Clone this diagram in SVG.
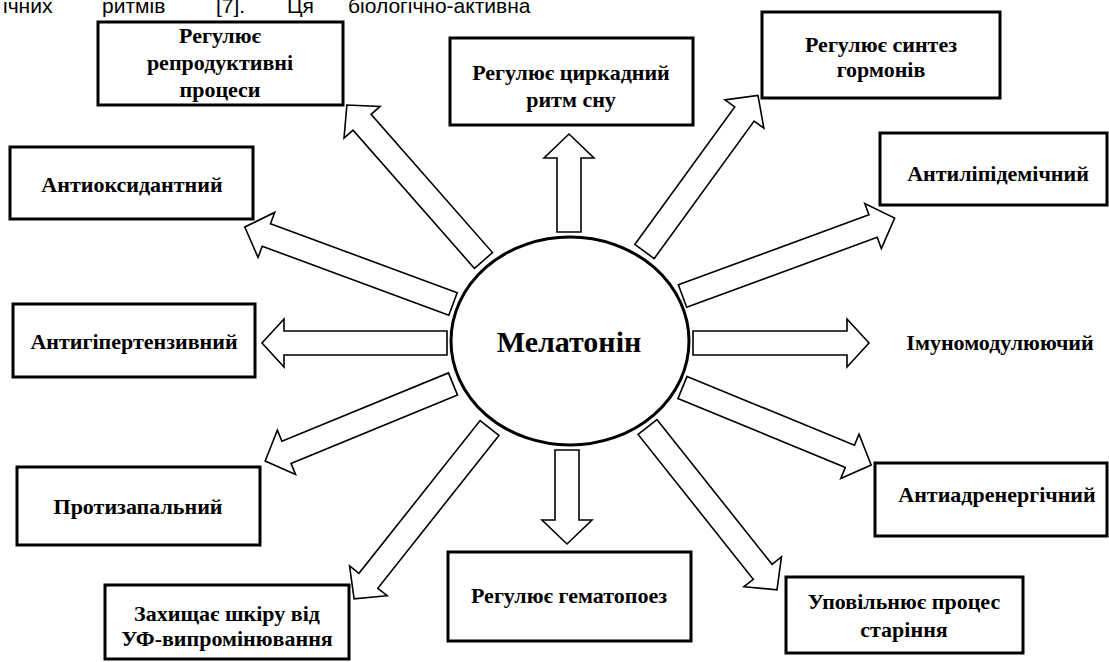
<svg xmlns="http://www.w3.org/2000/svg" width="1109" height="662" viewBox="0 0 1109 662">
<style>
.box{fill:#fff;stroke:#000;stroke-width:3}
.lbl{font-family:'Liberation Serif','DejaVu Serif',serif;font-weight:bold;font-size:22px;fill:#000;text-anchor:middle}
.arr{fill:#fff;stroke:#000;stroke-width:1.6;stroke-linejoin:miter}
.top{font-family:'Liberation Sans','DejaVu Sans',sans-serif;font-size:21px;fill:#000}
</style>
<rect width="1109" height="662" fill="#fff"/>
<text class="top" y="13"><tspan x="3">ічних</tspan><tspan x="102">ритмів</tspan><tspan x="216">[7].</tspan><tspan x="287">Ця</tspan><tspan x="348">біологічно-активна</tspan></text>
<g id="connectors">
<polygon class="arr" transform="translate(447,343) rotate(180)" points="0,-12 163,-12 163,-24 185,0 163,24 163,12 0,12"/>
<polygon class="arr" transform="translate(693,343) rotate(0)" points="0,-12 154,-12 154,-24 176,0 154,24 154,12 0,12"/>
<polygon class="arr" transform="translate(569,232) rotate(-90)" points="0,-12 74,-12 74,-25 98,0 74,25 74,12 0,12"/>
<polygon class="arr" transform="translate(567,450) rotate(90)" points="0,-12 70,-12 70,-25 94,0 70,25 70,12 0,12"/>
<polygon class="arr" transform="translate(483.5,260.5) rotate(-131.3)" points="0,-12 184,-12 184,-24 207,0 184,24 184,12 0,12"/>
<polygon class="arr" transform="translate(453,304) rotate(-159.7)" points="0,-12 199,-12 199,-24 222,0 199,24 199,12 0,12"/>
<polygon class="arr" transform="translate(453,384) rotate(157.7)" points="0,-12 180,-12 180,-24 203,0 180,24 180,12 0,12"/>
<polygon class="arr" transform="translate(489.5,428) rotate(128.4)" points="0,-12 195,-12 195,-24 218,0 195,24 195,12 0,12"/>
<polygon class="arr" transform="translate(644.5,251.5) rotate(-54)" points="0,-12 170,-12 170,-24 193,0 170,24 170,12 0,12"/>
<polygon class="arr" transform="translate(682.5,296) rotate(-20.15)" points="0,-12 203,-12 203,-24 226,0 203,24 203,12 0,12"/>
<polygon class="arr" transform="translate(682.5,387.5) rotate(22.35)" points="0,-12 181,-12 181,-24 204,0 181,24 181,12 0,12"/>
<polygon class="arr" transform="translate(647.5,427) rotate(51.5)" points="0,-12 185,-12 185,-24 208,0 185,24 185,12 0,12"/>
</g>
<g id="melatonin">
<ellipse cx="570" cy="341" rx="119" ry="104" fill="#fff" stroke="#000" stroke-width="3"/>
<text class="lbl" x="569" y="352" style="font-size:30px">Мелатонін</text>
</g>
<g id="n-repro">
<rect class="box" x="98" y="22" width="245" height="83"/>
<text class="lbl" x="220" y="43">Регулює</text>
<text class="lbl" x="220" y="70">репродуктивні</text>
<text class="lbl" x="220" y="97">процеси</text>
</g>
<g id="n-circadian">
<rect class="box" x="450" y="38" width="243" height="87"/>
<text class="lbl" x="571" y="80">Регулює циркадний</text>
<text class="lbl" x="571" y="107">ритм сну</text>
</g>
<g id="n-hormones">
<rect class="box" x="762" y="12" width="238" height="86"/>
<text class="lbl" x="881" y="52">Регулює синтез</text>
<text class="lbl" x="881" y="77">гормонів</text>
</g>
<g id="n-antioxidant">
<rect class="box" x="10" y="147" width="243" height="72"/>
<text class="lbl" x="132" y="192">Антиоксидантний</text>
</g>
<g id="n-antilipid">
<rect class="box" x="880" y="133" width="227" height="72"/>
<text class="lbl" x="998" y="181">Антиліпідемічний</text>
</g>
<g id="n-antihyper">
<rect class="box" x="13" y="304" width="242" height="73"/>
<text class="lbl" x="134" y="349">Антигіпертензивний</text>
</g>
<g id="n-immuno">
<text class="lbl" x="1000" y="350">Імуномодулюючий</text>
</g>
<g id="n-antiinflam">
<rect class="box" x="17" y="467" width="243" height="78"/>
<text class="lbl" x="138" y="514">Протизапальний</text>
</g>
<g id="n-antiadren">
<rect class="box" x="875" y="463" width="232" height="73"/>
<text class="lbl" x="997" y="502">Антиадренергічний</text>
</g>
<g id="n-uv">
<rect class="box" x="105" y="585" width="244" height="74"/>
<text class="lbl" x="227" y="621">Захищає шкіру від</text>
<text class="lbl" x="227" y="646">УФ-випромінювання</text>
</g>
<g id="n-hemato">
<rect class="box" x="448" y="552" width="243" height="89"/>
<text class="lbl" x="569" y="603">Регулює гематопоез</text>
</g>
<g id="n-aging">
<rect class="box" x="786" y="577" width="237" height="76"/>
<text class="lbl" x="904" y="609">Уповільнює процес</text>
<text class="lbl" x="904" y="637">старіння</text>
</g>
</svg>
